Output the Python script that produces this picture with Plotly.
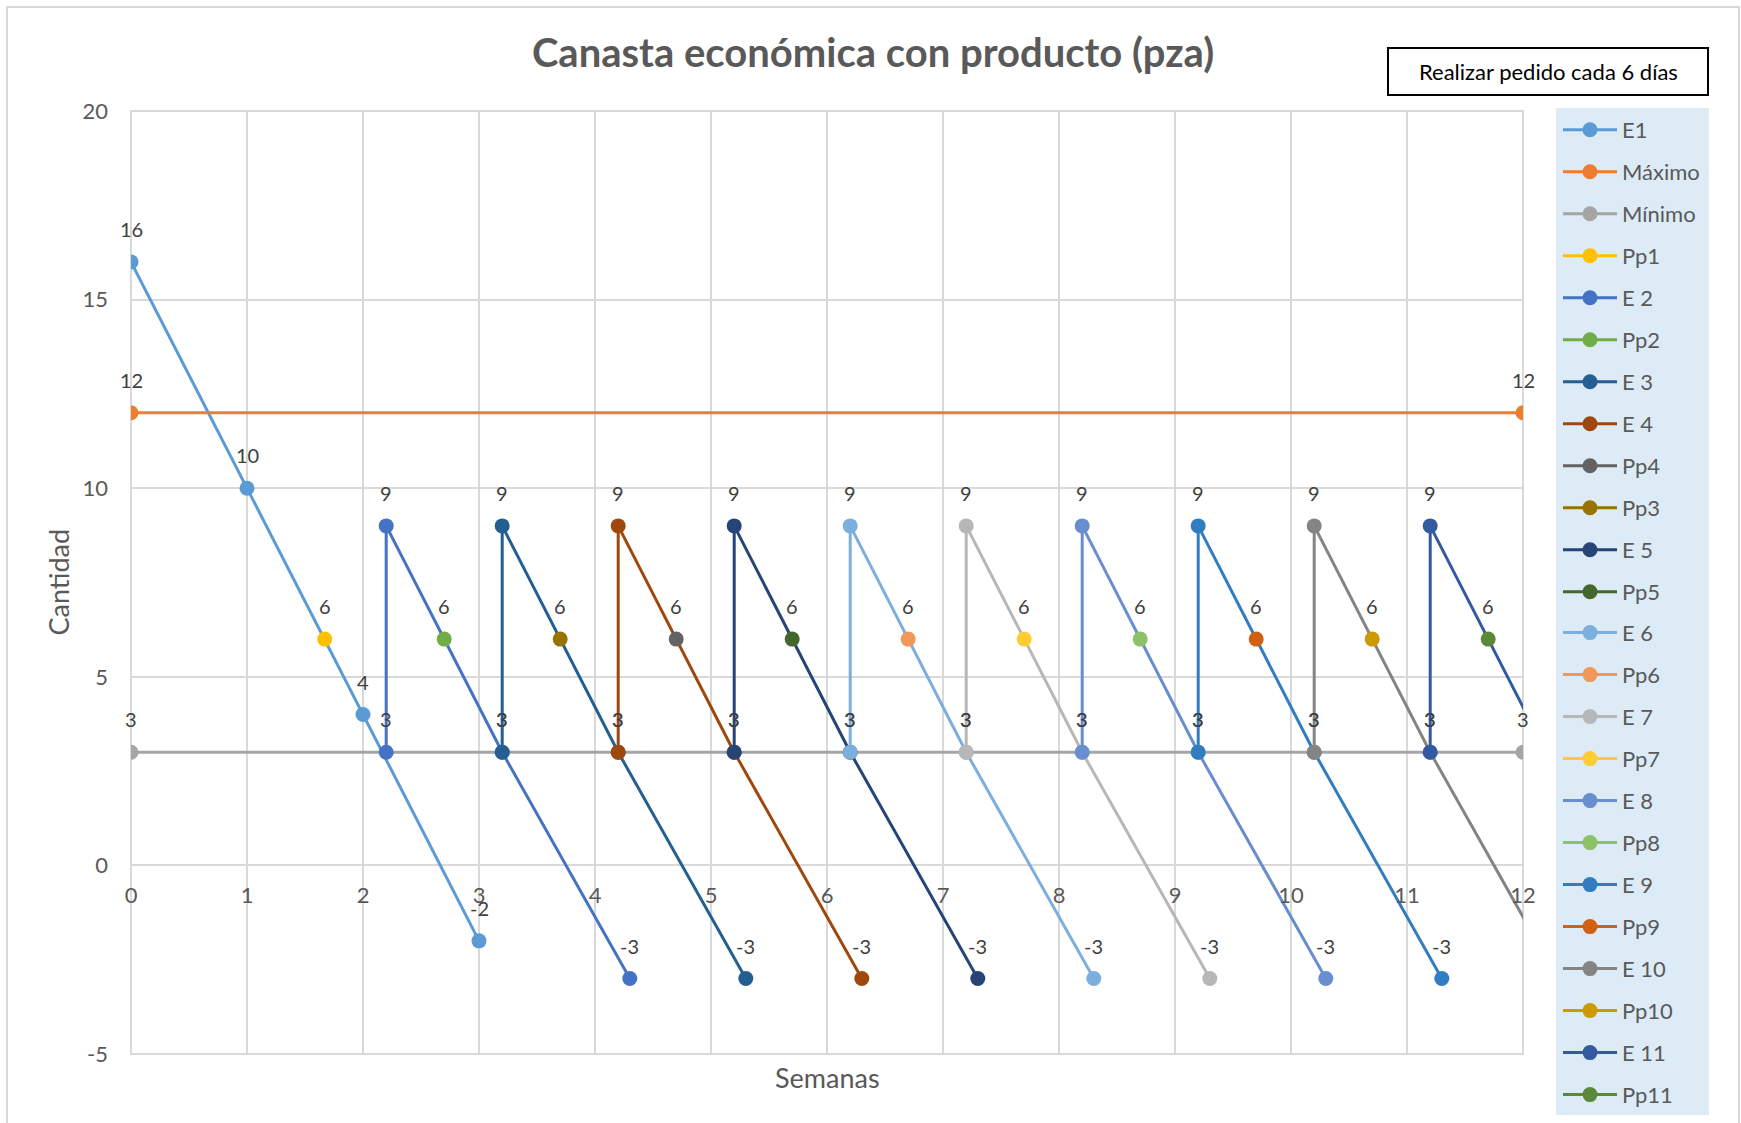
import plotly.graph_objects as go

# Rango de los ejes
x_range = [0, 12]
y_range = [-5, 20]
x_ticks = list(range(0, 13))
y_ticks = [-5, 0, 5, 10, 15, 20]

# Existencia inicial
e1_x = [0, 1, 2, 3]
e1_y = [16, 10, 4, -2]

# Máximo y mínimo
maximo_x = [0, 12]
maximo_y = [12, 12]
minimo_x = [0, 12]
minimo_y = [3, 3]

# Ciclos de reposición (llegada del pedido, pico, vuelve al mínimo, agotamiento)
ciclo_y = [3, 9, 3, -3]
e2_x = [2.2, 2.2, 3.2, 4.3]
e3_x = [3.2, 3.2, 4.2, 5.3]
e4_x = [4.2, 4.2, 5.2, 6.3]
e5_x = [5.2, 5.2, 6.2, 7.3]
e6_x = [6.2, 6.2, 7.2, 8.3]
e7_x = [7.2, 7.2, 8.2, 9.3]
e8_x = [8.2, 8.2, 9.2, 10.3]
e9_x = [9.2, 9.2, 10.2, 11.3]
e10_x = [10.2, 10.2, 11.2, 12.3]
e11_x = [11.2, 11.2, 12.2, 13.3]

# Puntos de pedido
pp_y = 6
pp1_x = 1.67
pp2_x = 2.7
pp3_x = 3.7
pp4_x = 4.7
pp5_x = 5.7
pp6_x = 6.7
pp7_x = 7.7
pp8_x = 8.7
pp9_x = 9.7
pp10_x = 10.7
pp11_x = 11.7

# (nombre, x, y, color) en el orden de la leyenda
series = [
    ("E1", e1_x, e1_y, "#5B9BD5"),
    ("Máximo", maximo_x, maximo_y, "#ED7D31"),
    ("Mínimo", minimo_x, minimo_y, "#A5A5A5"),
    ("Pp1", [pp1_x], [pp_y], "#FFC000"),
    ("E 2", e2_x, ciclo_y, "#4472C4"),
    ("Pp2", [pp2_x], [pp_y], "#70AD47"),
    ("E 3", e3_x, ciclo_y, "#255E91"),
    ("E 4", e4_x, ciclo_y, "#9E480E"),
    ("Pp4", [pp4_x], [pp_y], "#636363"),
    ("Pp3", [pp3_x], [pp_y], "#997300"),
    ("E 5", e5_x, ciclo_y, "#264478"),
    ("Pp5", [pp5_x], [pp_y], "#43682B"),
    ("E 6", e6_x, ciclo_y, "#7CAFDD"),
    ("Pp6", [pp6_x], [pp_y], "#F1975A"),
    ("E 7", e7_x, ciclo_y, "#B7B7B7"),
    ("Pp7", [pp7_x], [pp_y], "#FFCD33"),
    ("E 8", e8_x, ciclo_y, "#698ED0"),
    ("Pp8", [pp8_x], [pp_y], "#8CC168"),
    ("E 9", e9_x, ciclo_y, "#327DC2"),
    ("Pp9", [pp9_x], [pp_y], "#D26012"),
    ("E 10", e10_x, ciclo_y, "#848484"),
    ("Pp10", [pp10_x], [pp_y], "#CC9A00"),
    ("E 11", e11_x, ciclo_y, "#335AA1"),
    ("Pp11", [pp11_x], [pp_y], "#5A8A39"),
]

FONT = "Lato"
GRID = "#D9D9D9"
TXT = "#595959"

W, H = 1741, 1123
ML, MR, MT, MB = 131, 218, 111, 69
PW, PH = W - ML - MR, H - MT - MB

# la leyenda se reparte en dos bloques apilados sobre un mismo fondo
LEG_FIRST = 129.0      # centro de la primera entrada (px)
LEG_STEP = 41.9        # separación entre entradas (px)
LEG_SPLIT = 12


def px_x(p):
    return (p - ML) / PW


def px_y(p):
    return 1 - (p - MT) / PH


def fmt(v):
    # guion simple para los negativos
    return str(int(v))


fig = go.Figure()
annotations = []

for i, (name, xs, ys, color) in enumerate(series):
    fig.add_trace(go.Scatter(
        x=xs, y=ys, name=name, mode="lines+markers",
        line=dict(color=color, width=3),
        marker=dict(color=color, size=15),
        legendgroup=f"g{i}",
        legend="legend" if i < LEG_SPLIT else "legend2",
        cliponaxis=True,
    ))
    # etiquetas de datos sobre cada punto visible
    for xv, yv in zip(xs, ys):
        if x_range[0] <= xv <= x_range[1]:
            annotations.append(dict(
                x=xv, y=yv, xref="x", yref="y", text=fmt(yv),
                showarrow=False, yshift=33, yanchor="middle",
                font=dict(family=FONT, size=20, color="#404040"),
            ))

# títulos de ejes
annotations.append(dict(
    x=px_x(58), y=0.5, xref="paper", yref="paper", text="Cantidad",
    textangle=-90, showarrow=False, xanchor="center", yanchor="middle",
    font=dict(family=FONT, size=27, color=TXT),
))
annotations.append(dict(
    x=0.5, y=px_y(1077), xref="paper", yref="paper", text="Semanas",
    showarrow=False, xanchor="center", yanchor="middle",
    font=dict(family=FONT, size=27, color=TXT),
))
# nota de política de pedido
annotations.append(dict(
    x=px_x(1548), y=px_y(71.5), xref="paper", yref="paper",
    text="Realizar pedido cada 6 días", showarrow=False,
    xanchor="center", yanchor="middle",
    font=dict(family=FONT, size=22, color="#000000"),
))

shapes = [
    # borde exterior del gráfico
    dict(type="rect", xref="paper", yref="paper",
         x0=px_x(7), x1=px_x(1739), y0=px_y(1140), y1=px_y(7),
         line=dict(color=GRID, width=2), layer="below"),
    # fondo de la leyenda
    dict(type="rect", xref="paper", yref="paper",
         x0=px_x(1556), x1=px_x(1709), y0=px_y(1115), y1=px_y(108),
         line=dict(width=0), fillcolor="#DDEBF7", layer="below"),
    # marco del área de trazado
    dict(type="rect", xref="paper", yref="paper", x0=0, x1=1, y0=0, y1=1,
         line=dict(color=GRID, width=2), layer="below"),
    # recuadro de la nota
    dict(type="rect", xref="paper", yref="paper",
         x0=px_x(1388), x1=px_x(1708), y0=px_y(95), y1=px_y(48),
         line=dict(color="#000000", width=2), fillcolor="#FFFFFF", layer="above"),
]

legend_common = dict(
    xanchor="left", yanchor="top", x=px_x(1558),
    bgcolor="rgba(0,0,0,0)", borderwidth=0,
    font=dict(family=FONT, size=22, color=TXT),
    itemwidth=54, tracegroupgap=10.4,
)

fig.update_layout(
    width=W, height=H,
    margin=dict(l=ML, r=MR, t=MT, b=MB, autoexpand=False),
    paper_bgcolor="#FFFFFF", plot_bgcolor="#FFFFFF",
    font=dict(family=FONT, color=TXT),
    title=dict(
        text="<b>Canasta económica con producto (pza)</b>",
        x=873 / W, xanchor="center", y=1 - 53 / H, yanchor="middle",
        xref="container", yref="container",
        font=dict(family=FONT, size=40, color=TXT),
    ),
    xaxis=dict(
        range=x_range, tickvals=x_ticks, ticktext=[fmt(v) for v in x_ticks],
        showgrid=True, gridcolor=GRID, gridwidth=2,
        zeroline=False, showline=False, ticks="",
        anchor="free", position=(0 - y_range[0]) / (y_range[1] - y_range[0]),
        ticklabelstandoff=15,
        tickfont=dict(family=FONT, size=22, color=TXT),
    ),
    yaxis=dict(
        range=y_range, tickvals=y_ticks, ticktext=[fmt(v) for v in y_ticks],
        showgrid=True, gridcolor=GRID, gridwidth=2,
        zeroline=True, zerolinecolor=GRID, zerolinewidth=2,
        showline=False, ticks="", ticklabelstandoff=22,
        tickfont=dict(family=FONT, size=22, color=TXT),
    ),
    legend=dict(y=px_y(LEG_FIRST - 20), **legend_common),
    legend2=dict(y=px_y(LEG_FIRST + LEG_SPLIT * LEG_STEP - 20), **legend_common),
    showlegend=True,
    annotations=annotations,
    shapes=shapes,
)

fig.write_html("out.html")
